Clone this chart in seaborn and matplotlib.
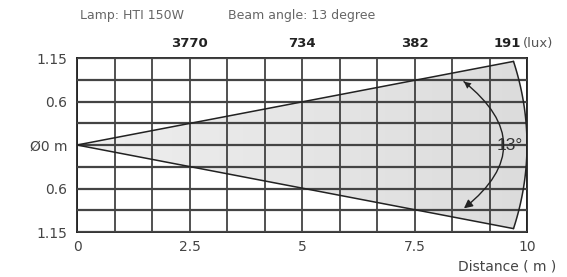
import numpy as np
import pandas as pd
import matplotlib.pyplot as plt
from matplotlib.patches import Polygon, FancyArrowPatch
from matplotlib.colors import LinearSegmentedColormap
import seaborn as sns

sns.set_style("white")
plt.rcParams["font.family"] = ["DejaVu Sans"]

# chart values
lamp = "HTI 150W"
beam_angle = 13  # degrees
max_distance = 10
edge_end = 9.7  # where the beam edge lines meet the end arc
half_width = 1.15
distance_ticks = [0, 2.5, 5, 7.5, 10]
distance_labels = ["0", "2.5", "5", "7.5", "10"]
diameter_ticks = [1.15, 0.575, 0, -0.575, -1.15]
diameter_labels = ["1.15", "0.6", "Ø0 m", "0.6", "1.15"]
lux_distances = [2.5, 5, 7.5]
lux_values = [3770, 734, 382]
last_lux_distance = 9.56
last_lux = 191

fig = plt.figure(figsize=(5.67, 2.77), dpi=100)
ax = fig.add_axes([77 / 567, 1 - 232 / 277, 450 / 567, 174 / 277])

# beam outline
half = np.radians(beam_angle / 2)
t_end = np.arccos(edge_end / max_distance)
b = edge_end * np.tan(half) / np.sin(t_end)
t = np.linspace(t_end, -t_end, 60)
arc_x = max_distance * np.cos(t)
arc_y = b * np.sin(t)
poly_xy = np.column_stack([np.r_[0, arc_x], np.r_[0, arc_y]])

shade = LinearSegmentedColormap.from_list("shade", ["#efefef", "#dcdcdc"])
grad = np.tile(np.linspace(0, 1, 256), (10, 1))
im = ax.imshow(grad, extent=[0, max_distance, -half_width, half_width],
               cmap=shade, aspect="auto", zorder=1)
patch = Polygon(poly_xy, closed=True, facecolor="none", edgecolor="none")
ax.add_patch(patch)
im.set_clip_path(patch)

edge = pd.DataFrame({
    "x": [arc_x[0], 0, arc_x[-1]],
    "y": [arc_y[0], 0, arc_y[-1]],
})
sns.lineplot(data=edge, x="x", y="y", sort=False, estimator=None,
             color="#222222", linewidth=1.1, ax=ax, zorder=4)
ax.plot(arc_x, arc_y, color="#222222", linewidth=1.1, zorder=4)

# angle arrow
ax.add_patch(FancyArrowPatch((8.55, 0.86), (8.55, -0.86),
                             connectionstyle="arc3,rad=-0.64",
                             arrowstyle="-|>,head_length=5,head_width=2.5",
                             color="#222222", linewidth=1.0, zorder=5))
ax.add_patch(FancyArrowPatch((8.55, -0.86), (8.55, 0.86),
                             connectionstyle="arc3,rad=0.64",
                             arrowstyle="-|>,head_length=5,head_width=2.5",
                             color="#222222", linewidth=0, zorder=5))
ax.text(9.62, 0, f"{beam_angle}°", fontsize=12.5, color="#333333",
        family="Liberation Sans", ha="center", va="center", zorder=6)

# grid
ax.set_xlim(0, max_distance)
ax.set_ylim(-half_width, half_width)
for gx in np.linspace(0, max_distance, 13):
    ax.axvline(gx, color="#222222", linewidth=1.1, zorder=3)
for gy in np.linspace(-half_width, half_width, 9):
    ax.axhline(gy, color="#444444", linewidth=1.6, zorder=3)
for s in ax.spines.values():
    s.set_color("#222222")
    s.set_linewidth(1.3)

ax.set_xticks(distance_ticks)
ax.set_xticklabels(distance_labels)
ax.set_yticks(diameter_ticks)
ax.set_yticklabels(diameter_labels)
ax.tick_params(which="both", length=0)
ax.tick_params(axis="x", pad=6, labelsize=10, labelcolor="#444444")
ax.tick_params(axis="y", pad=7, labelsize=10, labelcolor="#444444")
ax.set_xlabel("")
ax.set_ylabel("")

# lux values above the grid
for d, v in zip(lux_distances, lux_values):
    ax.text(d, half_width + 0.19, str(v), fontsize=9.5, fontweight="bold",
            color="#222222", ha="center", va="center")
ax.text(last_lux_distance, half_width + 0.19, str(last_lux), fontsize=9.5,
        fontweight="bold", color="#222222", ha="center", va="center")
fig.text(523 / 567, 1 - 43 / 277, "(lux)", fontsize=9.5, color="#555555",
         ha="left", va="center")

fig.text(80 / 567, 1 - 15 / 277, f"Lamp: {lamp}",
         fontsize=9, color="#666666", ha="left", va="center")
fig.text(228 / 567, 1 - 15 / 277, f"Beam angle: {beam_angle} degree",
         fontsize=9, color="#666666", ha="left", va="center")
fig.text(556 / 567, 1 - 267 / 277, "Distance ( m )", fontsize=10,
         color="#444444", ha="right", va="center")

fig.savefig("out.png", dpi=100, facecolor="white")
